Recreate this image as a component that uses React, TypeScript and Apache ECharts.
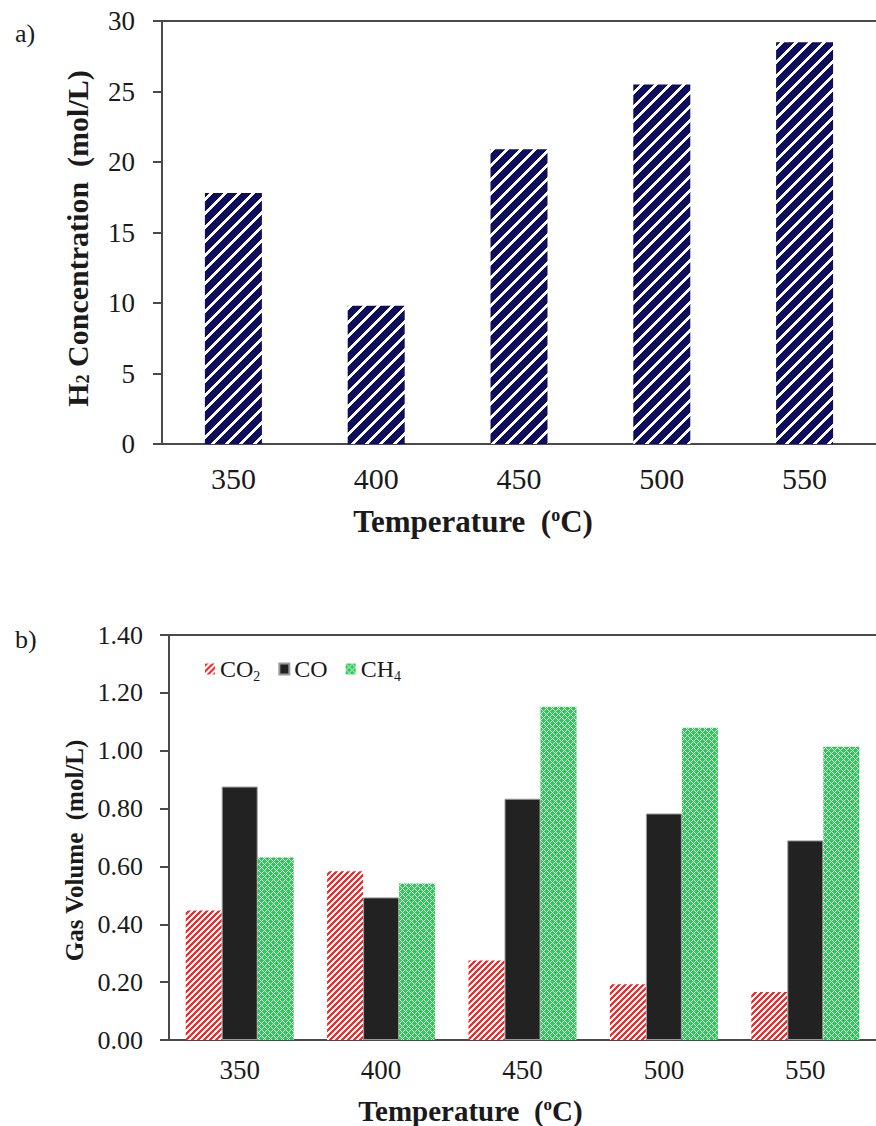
import React, { useEffect, useRef } from 'react';
import * as echarts from 'echarts';

const temperatures = ['350', '400', '450', '500', '550'];
const h2Concentration = [17.8, 9.8, 20.9, 25.5, 28.5];
const co2Volume = [0.448, 0.583, 0.275, 0.193, 0.166];
const coVolume = [0.876, 0.493, 0.834, 0.783, 0.69];
const ch4Volume = [0.631, 0.541, 1.152, 1.079, 1.014];
const seriesNames = ['CO2', 'CO', 'CH4'];
const h2Axis = { min: 0, max: 30, interval: 5 };
const gasAxis = { min: 0, max: 1.4, interval: 0.2 };

const FONT = '"Liberation Serif", "Times New Roman", serif';
const TXT = '#1a1a1a';

function makePattern(size: number, bg: string, fn: (x: number, y: number) => string | null) {
  const c = document.createElement('canvas');
  c.width = size;
  c.height = size;
  const ctx = c.getContext('2d')!;
  ctx.fillStyle = bg;
  ctx.fillRect(0, 0, size, size);
  for (let y = 0; y < size; y++) {
    for (let x = 0; x < size; x++) {
      const col = fn(x, y);
      if (col) {
        ctx.fillStyle = col;
        ctx.fillRect(x, y, 1, 1);
      }
    }
  }
  return { image: c.toDataURL(), repeat: 'repeat', imageWidth: size, imageHeight: size } as any;
}

export default function App() {
  const ref = useRef<HTMLDivElement>(null);
  useEffect(() => {
    if (!ref.current) return;
    const chart = echarts.init(ref.current, undefined, { renderer: 'svg' });

    const navy = makePattern(14, '#ffffff', (x, y) => ((x + y) % 14 < 10 ? '#0e0e5c' : null));
    const red = makePattern(6, '#ffffff', (x, y) => ((x + y) % 6 < 3 ? '#ff2626' : null));
    const green = makePattern(6, '#2cc956', (x, y) => {
      const a = (x + y) % 6 === 0;
      const b = ((x - y) % 6 + 6) % 6 === 0;
      if (a || b) return '#e6f8ea';
      return null;
    });

    const axisLine = { show: true, lineStyle: { color: '#4a4a4a', width: 2 } };
    const topLine = { show: true, lineStyle: { color: '#4a4a4a', width: 2 } };

    const option: any = {
      animation: false,
      backgroundColor: '#ffffff',
      title: [
        { text: 'a)', left: 10, top: 15, textStyle: { fontFamily: FONT, fontSize: 26, fontWeight: 'normal', color: TXT } },
        { text: 'b)', left: 10, top: 621, textStyle: { fontFamily: FONT, fontSize: 26, fontWeight: 'normal', color: TXT } },
      ],
      legend: {
        data: seriesNames,
        left: 200,
        top: 652,
        itemWidth: 10,
        itemHeight: 11,
        itemGap: 18,
        icon: 'rect',
        formatter: (n: string) => (n === 'CO2' ? '{n|CO}{s|2}' : n === 'CH4' ? '{n|CH}{s|4}' : '{n|CO}'),
        textStyle: {
          fontFamily: FONT,
          color: TXT,
          rich: {
            n: { fontFamily: FONT, fontSize: 24, color: TXT },
            s: { fontFamily: FONT, fontSize: 14, color: TXT, verticalAlign: 'bottom', padding: [0, 0, -2, 0] },
          },
        },
      },
      grid: [
        { left: 162, top: 21, width: 722, height: 423 },
        { left: 169, top: 635, width: 720, height: 405 },
      ],
      xAxis: [
        {
          gridIndex: 0,
          type: 'category',
          data: temperatures,
          position: 'bottom',
          axisLine,
          axisTick: { show: false },
          axisLabel: { fontFamily: FONT, fontSize: 30, color: TXT, margin: 19 },
          name: '{b|Temperature  (}{o|o}{b|C)}',
          nameLocation: 'middle',
          nameGap: 62,
          nameTextStyle: {
            padding: [0, 92, 0, 0],
            rich: {
              b: { fontFamily: FONT, fontSize: 31, fontWeight: 'bold', color: TXT },
              o: { fontFamily: FONT, fontSize: 18, fontWeight: 'bold', color: TXT, verticalAlign: 'top' },
            },
          },
        },
        {
          gridIndex: 0,
          type: 'category',
          data: temperatures,
          position: 'top',
          axisLine: topLine,
          axisTick: { show: false },
          axisLabel: { show: false },
        },
        {
          gridIndex: 1,
          type: 'category',
          data: temperatures,
          position: 'bottom',
          axisLine,
          axisTick: { show: false },
          axisLabel: { fontFamily: FONT, fontSize: 27, color: TXT, margin: 16 },
          name: '{b|Temperature  (}{o|o}{b|C)}',
          nameLocation: 'middle',
          nameGap: 56,
          nameTextStyle: {
            padding: [0, 104, 0, 0],
            rich: {
              b: { fontFamily: FONT, fontSize: 29, fontWeight: 'bold', color: TXT },
              o: { fontFamily: FONT, fontSize: 17, fontWeight: 'bold', color: TXT, verticalAlign: 'top' },
            },
          },
        },
        {
          gridIndex: 1,
          type: 'category',
          data: temperatures,
          position: 'top',
          axisLine: topLine,
          axisTick: { show: false },
          axisLabel: { show: false },
        },
      ],
      yAxis: [
        {
          gridIndex: 0,
          type: 'value',
          min: h2Axis.min,
          max: h2Axis.max,
          interval: h2Axis.interval,
          axisLine,
          axisTick: { show: true, length: 9, lineStyle: { color: '#4a4a4a', width: 2 } },
          splitLine: { show: false },
          axisLabel: { fontFamily: FONT, fontSize: 27, color: TXT, margin: 27 },
          name: '{b|H}{s|2}{b| Concentration  (mol/L)}',
          nameLocation: 'middle',
          nameGap: 70,
          nameTextStyle: {
            padding: [0, 12, 0, 0],
            rich: {
              b: { fontFamily: FONT, fontSize: 30, fontWeight: 'bold', color: TXT },
              s: { fontFamily: FONT, fontSize: 18, fontWeight: 'bold', color: TXT, verticalAlign: 'bottom' },
            },
          },
        },
        {
          gridIndex: 1,
          type: 'value',
          min: gasAxis.min,
          max: gasAxis.max,
          interval: gasAxis.interval,
          axisLine,
          axisTick: { show: true, length: 9, lineStyle: { color: '#4a4a4a', width: 2 } },
          splitLine: { show: false },
          axisLabel: {
            fontFamily: FONT,
            fontSize: 26,
            color: TXT,
            margin: 26,
            formatter: (v: number) => v.toFixed(2),
          },
          name: 'Gas Volume  (mol/L)',
          nameLocation: 'middle',
          nameGap: 79,
          nameTextStyle: {
            fontFamily: FONT,
            fontSize: 25,
            fontWeight: 'bold',
            color: TXT,
            padding: [0, 26, 0, 0],
          },
        },
      ],
      series: [
        {
          type: 'bar',
          name: 'H2',
          xAxisIndex: 0,
          yAxisIndex: 0,
          data: h2Concentration,
          barWidth: 57,
          itemStyle: { color: navy },
        },
        {
          type: 'bar',
          name: seriesNames[0],
          xAxisIndex: 2,
          yAxisIndex: 1,
          data: co2Volume,
          barWidth: 36,
          barGap: '0%',
          itemStyle: { color: red },
        },
        {
          type: 'bar',
          name: seriesNames[1],
          xAxisIndex: 2,
          yAxisIndex: 1,
          data: coVolume,
          barWidth: 36,
          barGap: '0%',
          itemStyle: { color: '#222222', borderColor: '#9a9a9a', borderWidth: 1 },
        },
        {
          type: 'bar',
          name: seriesNames[2],
          xAxisIndex: 2,
          yAxisIndex: 1,
          data: ch4Volume,
          barWidth: 36,
          barGap: '0%',
          itemStyle: { color: green },
        },
      ],
    };
    chart.setOption(option);
    return () => chart.dispose();
  }, []);
  return (
    <div
      ref={ref}
      style={{ position: 'absolute', left: 0, top: 0, width: 876, height: 1126, background: '#fff' }}
    />
  );
}
